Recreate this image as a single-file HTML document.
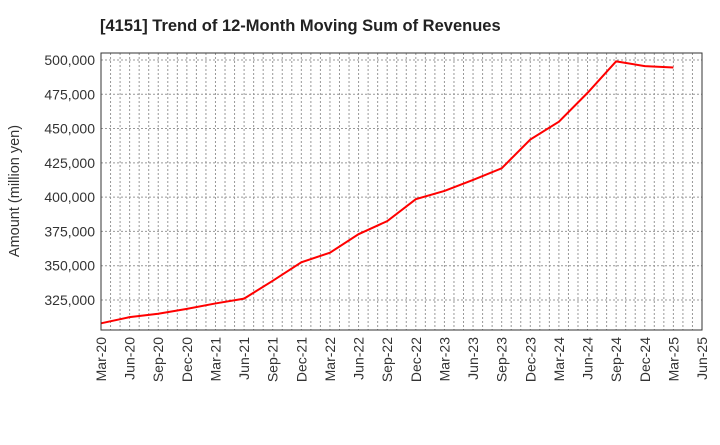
<!DOCTYPE html>
<html><head><meta charset="utf-8"><style>
body{margin:0;background:#fff;font-family:"Liberation Sans",sans-serif;}
</style></head><body>
<svg width="720" height="440" xmlns="http://www.w3.org/2000/svg">
<text x="100" y="31" font-size="16.5" font-weight="bold" fill="#222">[4151]  Trend of 12-Month Moving Sum of Revenues</text>
<g id="grid"></g>
<g id="axes"></g>
<polyline id="line" fill="none" stroke="#ff0000" stroke-width="2"/>
<rect x="101" y="53" width="601" height="277" fill="none" stroke="#333" stroke-width="1"/>
<text transform="translate(19,191) rotate(-90)" text-anchor="middle" font-size="14.5" fill="#333">Amount (million yen)</text>
</svg>
<script>
const xLabels=["Mar-20","Jun-20","Sep-20","Dec-20","Mar-21","Jun-21","Sep-21","Dec-21","Mar-22","Jun-22","Sep-22","Dec-22","Mar-23","Jun-23","Sep-23","Dec-23","Mar-24","Jun-24","Sep-24","Dec-24","Mar-25","Jun-25"];
const values=[308000,312500,315000,318500,322500,326000,339000,352500,359500,373000,382500,398500,404500,412500,421000,442000,455000,476000,499000,495500,494500];
const yTicks=[325000,350000,375000,400000,425000,450000,475000,500000];
const NS="http://www.w3.org/2000/svg";
const L=101,R=702,T=53,B=330;
const xq=i=>L+i*(R-L)/21;
const y=v=>300-(v-325000)/25000*34.29;
const grid=document.getElementById('grid'),axes=document.getElementById('axes');
function mk(t,a,p){const e=document.createElementNS(NS,t);for(const k in a)e.setAttribute(k,a[k]);p.appendChild(e);return e;}
for(let m=1;m<63;m++){const x=L+m*(R-L)/63;
const g=mk('line',{x1:x,x2:x,y1:T,y2:B,stroke:'#999','stroke-dasharray':'2,2','stroke-width':1},grid);

}
yTicks.forEach(v=>{const g=mk('line',{x1:L,x2:R,y1:y(v),y2:y(v),stroke:'#999','stroke-dasharray':'2,2'},grid);


const t=mk('text',{x:95,y:y(v)+5,'text-anchor':'end','font-size':14,fill:'#333'},axes);
t.textContent=v.toLocaleString('en-US');

});
xLabels.forEach((s,i)=>{const x=xq(i);
const t=mk('text',{transform:`translate(${x+5},337) rotate(-90)`,'text-anchor':'end','font-size':14,fill:'#333'},axes);
t.textContent=s;

});
document.getElementById('line').setAttribute('points',values.map((v,i)=>xq(i)+','+y(v)).join(' '));
</script>
</body></html>
